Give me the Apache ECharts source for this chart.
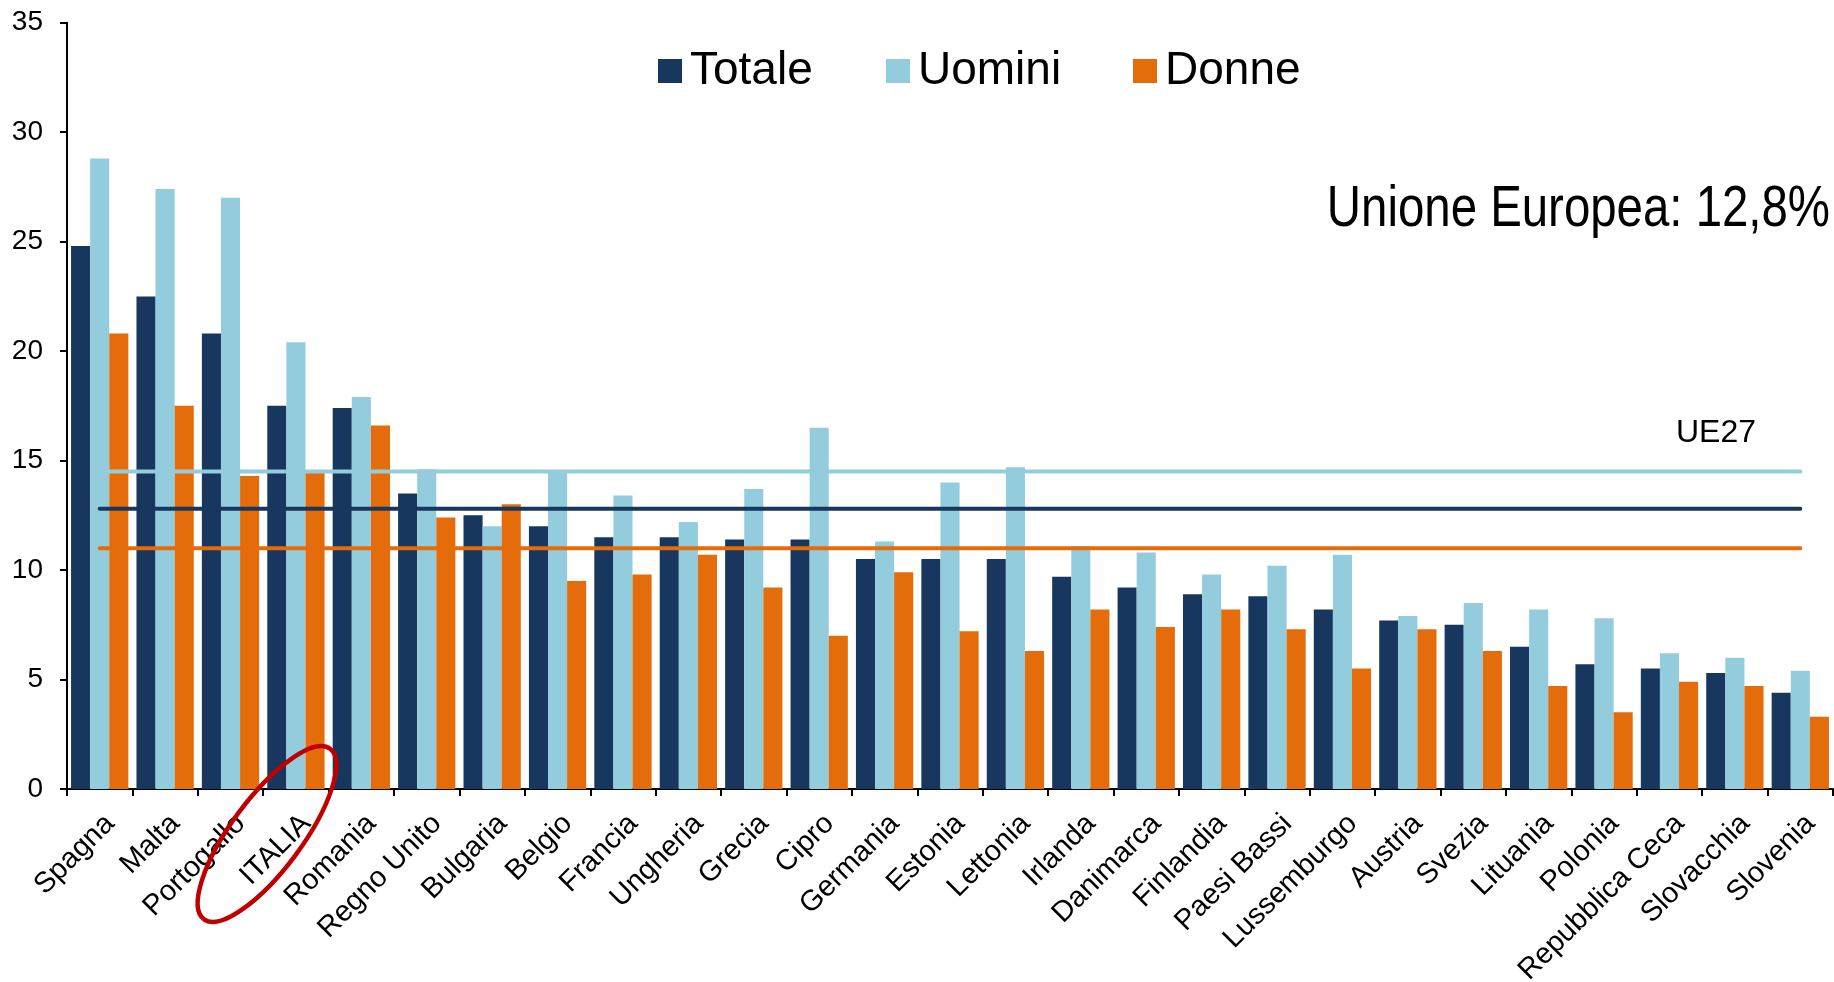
<!DOCTYPE html>
<html>
<head>
<meta charset="utf-8">
<script src="https://cdn.jsdelivr.net/npm/echarts@6/dist/echarts.min.js"></script>
<style>
  html, body { margin: 0; padding: 0; background: #ffffff; }
  #chart { width: 1834px; height: 982px; }
</style>
</head>
<body>
<div id="chart"></div>
<script>
// Paesi UE27, ordinati per valore totale
const countries = [
  'Spagna', 'Malta', 'Portogallo', 'ITALIA', 'Romania', 'Regno Unito', 'Bulgaria',
  'Belgio', 'Francia', 'Ungheria', 'Grecia', 'Cipro', 'Germania', 'Estonia',
  'Lettonia', 'Irlanda', 'Danimarca', 'Finlandia', 'Paesi Bassi', 'Lussemburgo',
  'Austria', 'Svezia', 'Lituania', 'Polonia', 'Repubblica Ceca', 'Slovacchia', 'Slovenia'
];
const totale = [24.8, 22.5, 20.8, 17.5, 17.4, 13.5, 12.5, 12.0, 11.5, 11.5, 11.4, 11.4, 10.5, 10.5,
  10.5, 9.7, 9.2, 8.9, 8.8, 8.2, 7.7, 7.5, 6.5, 5.7, 5.5, 5.3, 4.4];
const uomini = [28.8, 27.4, 27.0, 20.4, 17.9, 14.6, 12.0, 14.5, 13.4, 12.2, 13.7, 16.5, 11.3, 14.0,
  14.7, 11.1, 10.8, 9.8, 10.2, 10.7, 7.9, 8.5, 8.2, 7.8, 6.2, 6.0, 5.4];
const donne = [20.8, 17.5, 14.3, 14.5, 16.6, 12.4, 13.0, 9.5, 9.8, 10.7, 9.2, 7.0, 9.9, 7.2,
  6.3, 8.2, 7.4, 8.2, 7.3, 5.5, 7.3, 6.3, 4.7, 3.5, 4.9, 4.7, 3.3];

// Medie UE27
const ue27Totale = 12.8;
const ue27Uomini = 14.5;
const ue27Donne = 11.0;

// Asse Y
const yMin = 0;
const yMax = 35;
const yStep = 5;

const seriesNames = ['Totale', 'Uomini', 'Donne'];
const colors = { Totale: '#17375E', Uomini: '#93CDDD', Donne: '#E46C0A' };

const fontRegular = "'Liberation Sans', Arial, sans-serif";

function barSeries(name, values) {
  return {
    name: name,
    type: 'bar',
    data: values,
    barGap: '0%',
    barCategoryGap: '12.4%',
    itemStyle: { color: colors[name] },
    emphasis: { disabled: true }
  };
}

// Linea orizzontale della media UE27, dal primo all'ultimo paese
function ueLineSeries(name, value) {
  return {
    name: 'UE27 ' + name,
    type: 'line',
    data: [[countries[0], value], [countries[countries.length - 1], value]],
    symbol: 'none',
    silent: true,
    z: 5,
    lineStyle: { color: colors[name], width: 4, type: 'solid', cap: 'round' },
    emphasis: { disabled: true }
  };
}

function legendFor(name, left) {
  return {
    data: [name],
    left: left,
    top: 48,
    padding: 0,
    itemGap: 0,
    itemWidth: 24,
    itemHeight: 24,
    icon: 'rect',
    selectedMode: false,
    textStyle: { fontSize: 46, fontFamily: fontRegular, color: '#000', padding: [0, 0, 0, 3] }
  };
}

const chart = echarts.init(document.getElementById('chart'), null, { renderer: 'canvas' });

chart.setOption({
  animation: false,
  backgroundColor: '#ffffff',
  legend: [
    legendFor('Totale', 658),
    legendFor('Uomini', 886),
    legendFor('Donne', 1133)
  ],
  grid: { left: 67, right: 1, top: 22.7, bottom: 193, containLabel: false, outerBoundsMode: 'none' },
  xAxis: {
    type: 'category',
    data: countries,
    axisLine: { show: true, lineStyle: { color: '#000', width: 2 } },
    axisTick: { show: true, length: 7, lineStyle: { color: '#000', width: 2 } },
    axisLabel: {
      interval: 0,
      rotate: 45,
      margin: 20,
      verticalAlign: 'top',
      fontSize: 29,
      fontFamily: fontRegular,
      color: '#000'
    },
    splitLine: { show: false }
  },
  yAxis: {
    type: 'value',
    min: yMin,
    max: yMax,
    interval: yStep,
    axisLine: { show: true, lineStyle: { color: '#000', width: 2 } },
    axisTick: { show: true, length: 7, lineStyle: { color: '#000', width: 2 } },
    axisLabel: { margin: 24, fontSize: 28, fontFamily: fontRegular, color: '#000' },
    splitLine: { show: false }
  },
  series: [
    barSeries('Totale', totale),
    barSeries('Uomini', uomini),
    barSeries('Donne', donne),
    ueLineSeries('Uomini', ue27Uomini),
    ueLineSeries('Totale', ue27Totale),
    ueLineSeries('Donne', ue27Donne)
  ],
  graphic: [
    {
      // Titolo in carattere stretto
      type: 'text',
      x: 1830,
      y: 181,
      scaleX: 0.817,
      z: 100,
      style: {
        text: 'Unione Europea: ' + ue27Totale.toFixed(1).replace('.', ',') + '%',
        fontSize: 58,
        fontFamily: fontRegular,
        fill: '#000',
        align: 'right',
        verticalAlign: 'top'
      }
    },
    {
      type: 'text',
      x: 1756,
      y: 433,
      z: 100,
      style: {
        text: 'UE27',
        fontSize: 32,
        fontFamily: fontRegular,
        fill: '#000',
        align: 'right',
        verticalAlign: 'middle'
      }
    },
    {
      // Cerchiatura rossa attorno a ITALIA
      type: 'ellipse',
      x: 267,
      y: 834,
      rotation: 53.5 * Math.PI / 180,
      z: 100,
      shape: { cx: 0, cy: 0, rx: 106, ry: 35.5 },
      style: { fill: 'none', stroke: '#C00000', lineWidth: 4.5 }
    }
  ]
});
</script>
</body>
</html>
